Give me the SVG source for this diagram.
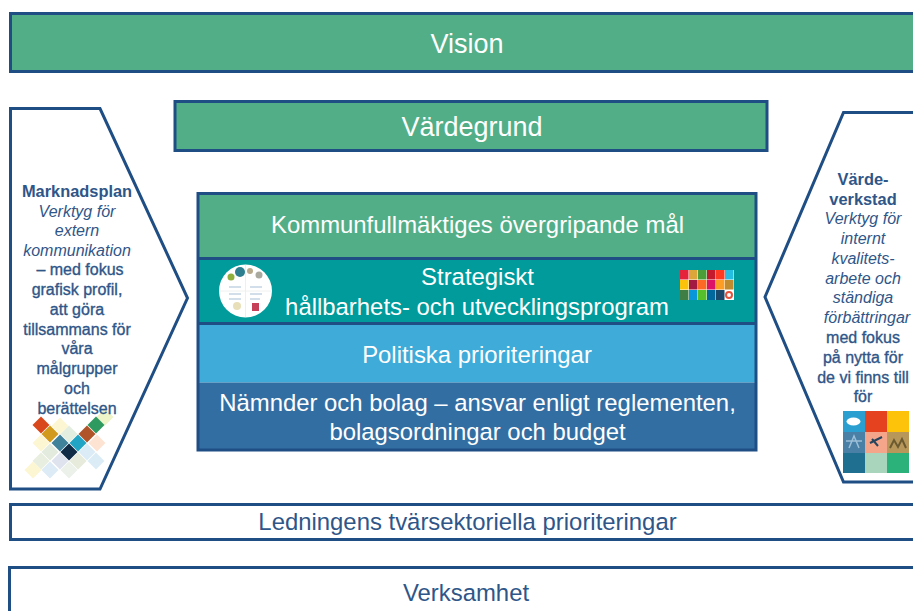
<svg xmlns="http://www.w3.org/2000/svg" width="913" height="611" viewBox="0 0 913 611">
<defs><path id="dm" d="M0 -8.500L8.500 0L0 8.500L-8.500 0Z"/></defs>
<style>
text{font-family:"Liberation Sans",Arial,sans-serif;text-anchor:middle}
.w{fill:#fff}
.b{stroke:#1f4e85;stroke-width:3}
.o{fill:#fff;stroke:#1f4e85;stroke-width:3}
.s{font-size:16px;fill:#2f5688;stroke:#2f5688;stroke-width:.35}
.i{font-style:italic;stroke:none}
.t{font-weight:bold;stroke:none;font-size:16.4px}
.l{font-size:23.9px}
.k{font-size:23.9px;fill:#2f5688}
</style>
<rect width="913" height="611" fill="#fff"/>
<g id="vision"><rect class="b" x="10.500" y="13.500" width="910" height="58" fill="#52ae87"/><text class="w" x="467" y="53" font-size="27">Vision</text></g>
<g id="vardegrund"><rect class="b" x="175" y="101.500" width="592" height="49" fill="#52ae87"/><text class="w" x="472" y="136" font-size="27">Värdegrund</text></g>
<g id="marknadsplan">
<path class="o" d="M10.500 108.500H100L187.500 298L100 489H10.500Z"/>
<g id="logo-check">
<use href="#dm" x="105" y="417" fill="#eef3c8"/>
<use href="#dm" x="60" y="426" fill="#fdf6d2"/>
<use href="#dm" x="69" y="434" fill="#e4eee0"/>
<use href="#dm" x="97" y="443" fill="#fde3d2"/>
<use href="#dm" x="41" y="443" fill="#fdf6d2"/>
<use href="#dm" x="50" y="452" fill="#e2ebdd"/>
<use href="#dm" x="87" y="452" fill="#dcecf6"/>
<use href="#dm" x="60" y="461" fill="#dfe3ee"/>
<use href="#dm" x="78" y="461" fill="#e6ebdc"/>
<use href="#dm" x="96" y="461" fill="#dcecf6"/>
<use href="#dm" x="41" y="461" fill="#e8efe0"/>
<use href="#dm" x="33" y="470" fill="#fdf6d2"/>
<use href="#dm" x="50" y="470" fill="#dcebf6"/>
<use href="#dm" x="69" y="470" fill="#ecf1ea"/>
<use href="#dm" x="41" y="425" fill="#d9481c"/>
<use href="#dm" x="50" y="434" fill="#d29a1c"/>
<use href="#dm" x="60" y="443" fill="#41829b"/>
<use href="#dm" x="78" y="443" fill="#22a4c4"/>
<use href="#dm" x="87" y="434" fill="#b0552a"/>
<use href="#dm" x="96" y="425" fill="#2f9a60"/>
<use href="#dm" x="69" y="452" fill="#0f2b45"/>
</g>
<text class="s t" x="77" y="197">Marknadsplan</text>
<text class="s i" x="77" y="217">Verktyg för</text>
<text class="s i" x="77" y="236">extern</text>
<text class="s i" x="77" y="256">kommunikation</text>
<text class="s" x="80" y="275">– med fokus</text>
<text class="s" x="77" y="295">grafisk profil,</text>
<text class="s" x="77" y="315">att göra</text>
<text class="s" x="77" y="335">tillsammans för</text>
<text class="s" x="77" y="354">våra</text>
<text class="s" x="77" y="374">målgrupper</text>
<text class="s" x="77" y="394">och</text>
<text class="s" x="77" y="414">berättelsen</text>
</g>
<g id="varde-verkstad">
<path class="o" d="M920 112.500H843.500L765 297L843.500 482H920"/>
<text class="s t" x="863" y="185">Värde-</text>
<text class="s t" x="863" y="205">verkstad</text>
<text class="s i" x="863" y="224">Verktyg för</text>
<text class="s i" x="863" y="244">internt</text>
<text class="s i" x="863" y="264">kvalitets-</text>
<text class="s i" x="863" y="284">arbete och</text>
<text class="s i" x="863" y="303">ständiga</text>
<text class="s i" x="867" y="323">förbättringar</text>
<text class="s" x="863" y="343">med fokus</text>
<text class="s" x="863" y="363">på nytta för</text>
<text class="s" x="863" y="383">de vi finns till</text>
<text class="s" x="863" y="402">för</text>
<g id="tiles">
<rect x="843" y="411" width="22" height="21" fill="#2a9fd0"/><rect x="865" y="411" width="22" height="21" fill="#e5431f"/><rect x="887" y="411" width="22" height="21" fill="#fdc30b"/>
<rect x="843" y="432" width="22" height="21" fill="#4a7fa6"/><rect x="865" y="432" width="22" height="21" fill="#f4a58a"/><rect x="887" y="432" width="22" height="21" fill="#b8975a"/>
<rect x="843" y="453" width="22" height="20" fill="#1e6f90"/><rect x="865" y="453" width="22" height="20" fill="#a8d5bb"/><rect x="887" y="453" width="22" height="20" fill="#2bb27a"/>
<ellipse cx="853.500" cy="421.500" rx="7" ry="4" fill="#fff"/>
<path d="M870 443L882 437M872 439L878 446" stroke="#27445f" stroke-width="2" fill="none"/>
<path d="M890 448L894 440L898 447L902 439L906 448" stroke="#6b5a30" stroke-width="2" fill="none"/>
<path d="M849 448L854 436L859 448M846 441H862" stroke="#9cc0d8" stroke-width="1.500" fill="none"/>
</g>
</g>
<g id="program-stack">
<rect x="198" y="193.500" width="558" height="65" fill="#52ae87"/>
<rect x="198" y="258.500" width="558" height="65" fill="#009b9a"/>
<rect x="198" y="323.500" width="558" height="59" fill="#3eabd9"/>
<rect x="198" y="382.500" width="558" height="67" fill="#336ea3"/>
<path d="M198 258.500H756M198 323.500H756" stroke="#1f4e85" stroke-width="3" fill="none"/>
<rect x="198" y="193.500" width="558" height="256.500" fill="none" class="b"/>
<text class="w l" x="477.500" y="233">Kommunfullmäktiges övergripande mål</text>
<text class="w l" x="477.500" y="285">Strategiskt</text>
<text class="w l" x="477" y="315">hållbarhets- och utvecklingsprogram</text>
<text class="w l" x="477" y="363">Politiska prioriteringar</text>
<text class="w l" x="477.500" y="411">Nämnder och bolag – ansvar enligt reglementen,</text>
<text class="w l" x="477.500" y="440">bolagsordningar och budget</text>
<g id="program-logo">
<circle cx="245.500" cy="291" r="26.500" fill="#fff"/>
<circle cx="240" cy="272" r="5" fill="#2d7f8f"/><circle cx="231" cy="277" r="3.500" fill="#8fb03c"/><circle cx="250" cy="271" r="3" fill="#b8a98a"/><circle cx="259" cy="275" r="3.500" fill="#a9a9a0"/>
<circle cx="237" cy="306" r="4" fill="#e8dfb8"/><rect x="252" y="303" width="7" height="8" fill="#c7405a"/>
<path d="M229 287H241M250 287H262M229 294H241M250 294H262M229 299H241M250 299H260" stroke="#c3d3e4" stroke-width="1.500"/>
<path d="M245.500 265V317M219 291H272" stroke="#eef0ef" stroke-width="1"/>
</g>
<g id="sdg-grid">
<rect x="680" y="270" width="54" height="30" fill="#fff"/>
<rect x="680" y="270" width="8.500" height="9.500" fill="#e5243b"/><rect x="689" y="270" width="8.500" height="9.500" fill="#dda63a"/><rect x="698" y="270" width="8.500" height="9.500" fill="#4c9f38"/><rect x="707" y="270" width="8.500" height="9.500" fill="#c5192d"/><rect x="716" y="270" width="8.500" height="9.500" fill="#ff3a21"/><rect x="725" y="270" width="8.500" height="9.500" fill="#26bde2"/>
<rect x="680" y="280" width="8.500" height="9.500" fill="#fcc30b"/><rect x="689" y="280" width="8.500" height="9.500" fill="#a21942"/><rect x="698" y="280" width="8.500" height="9.500" fill="#fd6925"/><rect x="707" y="280" width="8.500" height="9.500" fill="#dd1367"/><rect x="716" y="280" width="8.500" height="9.500" fill="#fd9d24"/><rect x="725" y="280" width="8.500" height="9.500" fill="#bf8b2e"/>
<rect x="680" y="290" width="8.500" height="10" fill="#3f7e44"/><rect x="689" y="290" width="8.500" height="10" fill="#0a97d9"/><rect x="698" y="290" width="8.500" height="10" fill="#56c02b"/><rect x="707" y="290" width="8.500" height="10" fill="#00689d"/><rect x="716" y="290" width="8.500" height="10" fill="#19486a"/>
<circle cx="729" cy="295" r="3" fill="none" stroke="#e5533c" stroke-width="2"/>
</g>
</g>
<g id="ledningens"><rect class="o" x="10.500" y="504.500" width="910" height="35"/><text class="k" x="467.500" y="530">Ledningens tvärsektoriella prioriteringar</text></g>
<g id="verksamhet"><rect class="o" x="9.500" y="567.500" width="910" height="60"/><text class="k" x="466" y="601">Verksamhet</text></g>
</svg>
